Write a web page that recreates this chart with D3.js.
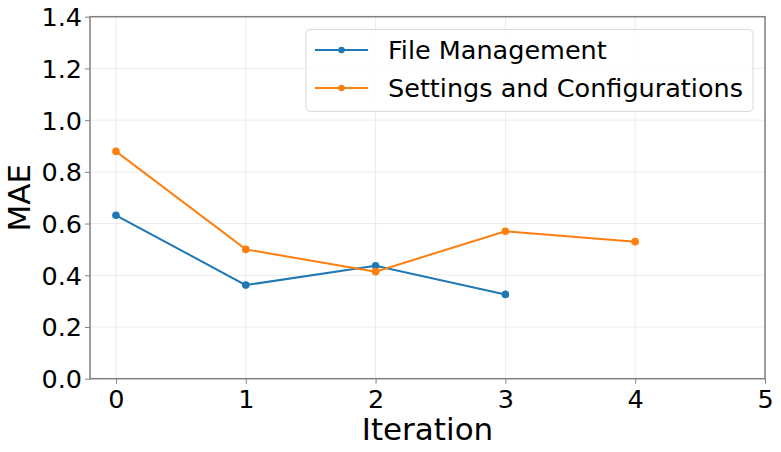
<!DOCTYPE html>
<html><head><meta charset="utf-8">
<script src="https://cdn.jsdelivr.net/npm/d3@7"></script>
<style>body{margin:0;background:#fff}svg{display:block}text{font-family:"DejaVu Sans",sans-serif}</style>
</head><body><svg id="c" width="781" height="452"></svg>
<script>
const iterations = [0, 1, 2, 3, 4];
const fileManagement = [0.632, 0.362, 0.437, 0.326];
const settingsConfig = [0.879, 0.500, 0.414, 0.570, 0.530];
const seriesNames = ["File Management", "Settings and Configurations"];
const colors = ["#1f77b4", "#ff7f0e"];
const xTicks = [0, 1, 2, 3, 4, 5];
const yTicks = [0, 0.2, 0.4, 0.6, 0.8, 1.0, 1.2, 1.4];

const svg = d3.select("#c");
const L = 90, R = 765, T = 16.7, B = 378.7;
const x = d3.scaleLinear().domain([-0.2, 5]).range([L, R]);
const y = d3.scaleLinear().domain([0, 1.4]).range([B, T]);

// grid
svg.append("g").selectAll("line").data(xTicks).join("line")
  .attr("x1", d => x(d)).attr("x2", d => x(d)).attr("y1", T).attr("y2", B)
  .attr("stroke", "#b0b0b0").attr("stroke-opacity", 0.3).attr("stroke-width", 0.8);
svg.append("g").selectAll("line").data(yTicks).join("line")
  .attr("y1", d => y(d)).attr("y2", d => y(d)).attr("x1", L).attr("x2", R)
  .attr("stroke", "#b0b0b0").attr("stroke-opacity", 0.3).attr("stroke-width", 0.8);

// axes
const xAxis = svg.append("g").attr("transform", `translate(0,${B})`)
  .call(d3.axisBottom(x).tickValues(xTicks).tickFormat(d3.format("d")).tickSize(5).tickSizeOuter(0));
const yAxis = svg.append("g").attr("transform", `translate(${L},0)`)
  .call(d3.axisLeft(y).tickValues(yTicks).tickFormat(d3.format(".1f")).tickSize(5).tickSizeOuter(0));
[xAxis, yAxis].forEach(a => {
  a.select(".domain").remove();
  a.selectAll("line").attr("stroke", "#808080").attr("stroke-width", 1);
  a.selectAll("text").attr("font-size", 25.5).attr("fill", "#000").attr("font-family", "DejaVu Sans");
});
xAxis.selectAll("text").attr("dy", "0.95em").attr("y", 5);
yAxis.selectAll("text").attr("x", -8).attr("dy", "0.35em");

// frame
svg.append("rect").attr("x", L).attr("y", T).attr("width", R - L).attr("height", B - T)
  .attr("fill", "none").attr("stroke", "#808080").attr("stroke-width", 1.5);

// series
const data = [fileManagement, settingsConfig];
const line = d3.line().x((d, i) => x(iterations[i])).y(d => y(d));
data.forEach((s, k) => {
  svg.append("path").datum(s).attr("d", line).attr("fill", "none")
    .attr("stroke", colors[k]).attr("stroke-width", 2);
  svg.append("g").selectAll("circle").data(s).join("circle")
    .attr("cx", (d, i) => x(iterations[i])).attr("cy", d => y(d)).attr("r", 3.8)
    .attr("fill", colors[k]);
});

// labels
svg.append("text").attr("x", (L + R) / 2).attr("y", 440).attr("text-anchor", "middle")
  .attr("font-size", 31).text("Iteration");
svg.append("text").attr("transform", `translate(30,${(T + B) / 2}) rotate(-90)`)
  .attr("text-anchor", "middle").attr("font-size", 31).text("MAE");

// legend
const lg = svg.append("g");
lg.append("rect").attr("x", 306).attr("y", 29.5).attr("width", 447).attr("height", 82).attr("rx", 4)
  .attr("fill", "#fff").attr("fill-opacity", 0.8).attr("stroke", "#d9d9d9").attr("stroke-width", 1);
seriesNames.forEach((n, k) => {
  const yy = 50 + k * 38;
  lg.append("line").attr("x1", 315).attr("x2", 368).attr("y1", yy).attr("y2", yy)
    .attr("stroke", colors[k]).attr("stroke-width", 2);
  lg.append("circle").attr("cx", 341.5).attr("cy", yy).attr("r", 3.2).attr("fill", colors[k]);
  lg.append("text").attr("x", 388).attr("y", yy).attr("dy", "0.35em").attr("font-size", 25.5).text(n);
});
</script></body></html>
